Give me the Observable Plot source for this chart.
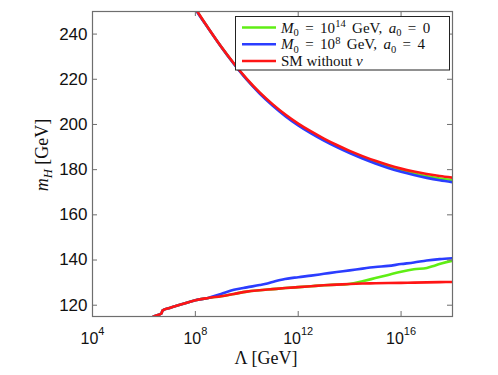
<!DOCTYPE html>
<html><head><meta charset="utf-8">
<script src="https://cdn.jsdelivr.net/npm/d3@7"></script>
<script src="https://cdn.jsdelivr.net/npm/@observablehq/plot@0.6"></script>
<style>body{margin:0;background:#fff} #chart{width:498px;height:375px}</style>
</head><body><div id="chart"></div>
<script>
// x tick exponents (Λ = 10^e GeV) and y ticks
const xTickExp = [4, 8, 12, 16];
const yTicks = [120, 140, 160, 180, 200, 220, 240];
const seriesNames = ["M0=1e14,a0=0", "M0=1e8,a0=4", "SM without nu"];
const seriesColors = ["#5fee14", "#2b3dff", "#ff1515"];

// [log10 Λ, m_H] pairs
const greenUpper = [[7.95,252.2],[8.07,250],[8.5,242.65],[9,234.45],[9.5,226.9],[10,220.0],[10.5,213.95],[11,208.7],[11.5,204.05],[12,200.0],[12.5,196.5],[13,193.3],[13.5,190.4],[14,187.8],[14.5,185.45],[15,183.3],[15.5,181.4],[16,179.7],[16.5,178.3],[17,177.1],[17.5,176.1],[18,175.4]];
const blueUpper = [[7.94,252.2],[8.06,250],[8.5,242.6],[9,234.4],[9.5,226.8],[10,219.8],[10.5,213.7],[11,208.4],[11.5,203.7],[12,199.6],[12.5,196.05],[13,192.85],[13.5,189.95],[14,187.3],[14.5,184.9],[15,182.7],[15.5,180.75],[16,179.05],[16.5,177.6],[17,176.35],[17.5,175.3],[18,174.45]];
const redUpper = [[7.96,252.2],[8.08,250],[8.5,242.7],[9,234.5],[9.5,227],[10,220.2],[10.5,214.2],[11,209],[11.5,204.4],[12,200.4],[12.5,196.9],[13,193.75],[13.5,190.9],[14,188.3],[14.5,186],[15,183.9],[15.5,182.05],[16,180.45],[16.5,179.15],[17,178.05],[17.5,177.15],[18,176.45]];

const redLower = [[6.3,114.5],[6.37,115],[6.68,116.3],[6.72,117.6],[7,118.8],[7.5,120.5],[8,122.2],[8.5,123.2],[9,124],[9.5,125],[10,126],[10.5,126.6],[11,127.1],[11.5,127.6],[12,128],[12.5,128.4],[13,128.8],[13.5,129.1],[14,129.4],[14.5,129.6],[15,129.7],[15.5,129.8],[16,129.9],[16.5,130],[17,130.1],[17.5,130.2],[18,130.3]];
const blueLower = [[6.3,114.5],[6.37,115],[6.68,116.3],[6.72,117.6],[7,118.8],[7.5,120.5],[8,122.2],[8.5,123.2],[9,125],[9.5,126.8],[10,127.9],[10.5,128.9],[10.8,129.6],[11.1,130.6],[11.4,131.4],[12,132.4],[12.5,133.1],[13,133.9],[13.5,134.7],[14,135.4],[14.5,136.2],[15,136.9],[15.5,137.4],[16,138.2],[16.5,138.9],[17,139.8],[17.5,140.4],[18,140.8]];
const greenLower = [[6.3,114.5],[6.37,115],[6.68,116.3],[6.72,117.6],[7,118.8],[7.5,120.5],[8,122.2],[8.5,123.2],[9,124],[9.5,125],[10,126],[10.5,126.6],[11,127.1],[11.5,127.6],[12,128],[12.5,128.4],[13,128.8],[13.5,129.1],[13.9,129.3],[14.2,129.8],[14.5,130.6],[15,132],[15.5,133.4],[16,134.8],[16.5,135.9],[17,136.5],[17.3,137.5],[17.6,138.6],[18,139.7]];

const toRows = (pts, series, branch) => pts.map(([e, mh]) => ({lam: 10 ** e, mh, series, key: series + branch}));
const greenRows = [...toRows(greenUpper, seriesNames[0], "u"), ...toRows(greenLower, seriesNames[0], "l")];
const blueRows = [...toRows(blueUpper, seriesNames[1], "u"), ...toRows(blueLower, seriesNames[1], "l")];
const redRows = [...toRows(redUpper, seriesNames[2], "u"), ...toRows(redLower, seriesNames[2], "l")];
const xTicks = xTickExp.map(e => 10 ** e);

const W = 498, H = 375, mL = 92, mR = 46, mT = 11, mB = 59;
const innerW = W - mL - mR, innerH = H - mT - mB, tickLen = 5;
const frameColor = "#6e6e6e";
const lineOpts = (c) => ({x: "lam", y: "mh", z: "key", stroke: c, strokeWidth: 2.6, clip: true, curve: "monotone-x"});

const svgEl = Plot.plot({
  width: W, height: H,
  marginLeft: mL, marginRight: mR, marginTop: mT, marginBottom: mB,
  style: {fontFamily: "'Liberation Sans', Arial, sans-serif", background: "white", color: "#111"},
  x: {type: "log", domain: [1e4, 1e18]},
  y: {domain: [115, 250]},
  marks: [
    Plot.line(greenRows, lineOpts(seriesColors[0])),
    Plot.line(blueRows, lineOpts(seriesColors[1])),
    Plot.line(redRows, lineOpts(seriesColors[2])),
    // inward ticks on all four sides
    Plot.tickX(xTicks, {x: d => d, stroke: frameColor, insetTop: innerH - tickLen}),
    Plot.tickX(xTicks, {x: d => d, stroke: frameColor, insetBottom: innerH - tickLen}),
    Plot.tickY(yTicks, {y: d => d, stroke: frameColor, insetRight: innerW - tickLen}),
    Plot.tickY(yTicks, {y: d => d, stroke: frameColor, insetLeft: innerW - tickLen}),
    Plot.frame({stroke: frameColor, strokeWidth: 1.2}),
    Plot.axisX({anchor: "bottom", ticks: xTicks, tickSize: 0, tickPadding: 16, fontSize: 16,
      tickFormat: d => String(Math.round(Math.log10(d))), label: null}),
    Plot.axisY({anchor: "left", ticks: yTicks, tickSize: 0, tickPadding: 5, fontSize: 17, label: null})
  ]
});
document.getElementById("chart").appendChild(svgEl);
const svg = d3.select(svgEl);

// superscript exponents on x tick labels
svg.selectAll('g[aria-label="x-axis tick label"] text').each(function() {
  const t = d3.select(this);
  const exp = t.text();
  if (!exp) return;
  t.text(null);
  t.append("tspan").text("10");
  t.append("tspan").attr("dy", "-9").attr("font-size", 11).text(exp);
});

// rich-text helper
const serif = "'Liberation Serif', 'Times New Roman', serif";
function rich(textSel, segs, fs) {
  let shift = 0;
  segs.forEach(([s, st]) => {
    const ts = textSel.append("tspan").text(s);
    let target = 0;
    if (st.includes("sub")) { target = fs * 0.22; ts.attr("font-size", fs * 0.7); }
    if (st.includes("sup")) { target = -fs * 0.38; ts.attr("font-size", fs * 0.7); }
    if (st.includes("i")) ts.attr("font-style", "italic");
    if (target !== shift) { ts.attr("dy", target - shift); shift = target; }
  });
}

// axis labels
rich(svg.append("text").attr("x", 266).attr("y", 364).attr("text-anchor", "middle")
  .attr("font-family", serif).attr("font-size", 18).attr("fill", "#111"),
  [["Λ [GeV]", ""]], 18);
rich(svg.append("text").attr("transform", "translate(48,155) rotate(-90)").attr("text-anchor", "middle")
  .attr("font-family", serif).attr("font-size", 18).attr("fill", "#111"),
  [["m", "i"], ["H", "i sub"], [" [GeV]", ""]], 18);

// legend
const legendText = [
  [["M", "i"], ["0", "sub"], [" = 10", ""], ["14", "sup"], [" GeV, ", ""], ["a", "i"], ["0", "sub"], [" = 0", ""]],
  [["M", "i"], ["0", "sub"], [" = 10", ""], ["8", "sup"], [" GeV, ", ""], ["a", "i"], ["0", "sub"], [" = 4", ""]],
  [["SM without ", ""], ["ν", "i"]]
];
const legendWordSpacing = [2.7, 2.7, 0];
const lg = svg.append("g");
lg.append("rect").attr("x", 235.5).attr("y", 16.5).attr("width", 214).attr("height", 53.5)
  .attr("fill", "white").attr("stroke", "#222").attr("stroke-width", 1);
legendText.forEach((segs, i) => {
  const y = 27.5 + i * 16.75;
  lg.append("line").attr("x1", 242).attr("x2", 276).attr("y1", y).attr("y2", y)
    .attr("stroke", seriesColors[i]).attr("stroke-width", 2.6);
  rich(lg.append("text").attr("x", 281).attr("y", y + 5).attr("text-anchor", "start").attr("font-family", serif)
    .attr("word-spacing", legendWordSpacing[i])
    .attr("font-size", 15).attr("fill", "#111"), segs, 15);
});
</script>
</body></html>
